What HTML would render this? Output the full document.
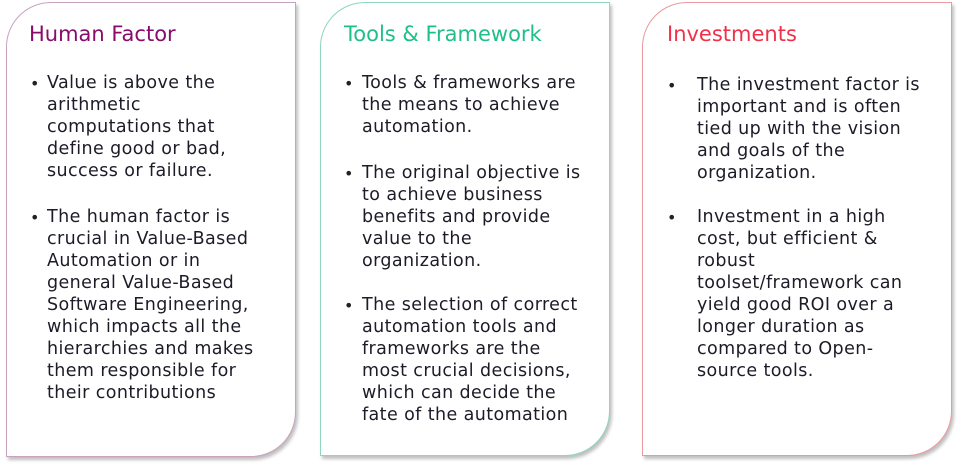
<!DOCTYPE html>
<html><head><meta charset="utf-8"><style>
body{margin:0;width:960px;height:466px;background:#fff;position:relative;overflow:hidden;font-family:"DejaVu Sans","Liberation Sans",sans-serif;}
.box{position:absolute;top:2px;height:454px;background:#fff;border:1.5px solid;border-radius:45px 0 45px 0;box-shadow:2px 3px 3px rgba(0,0,0,0.25);box-sizing:border-box;}
.t{position:absolute;top:21px;font-size:21px;line-height:26px;white-space:nowrap;}
.b{position:absolute;font-size:17.5px;letter-spacing:0.4px;line-height:22px;color:#1c1c28;white-space:nowrap;}
.d{position:absolute;font-size:16px;line-height:22px;color:#222;}
</style></head><body>
<div class="box" style="left:6px;width:290px;height:455px;border-color:#c9a2c2"></div>
<div class="box" style="left:320px;width:290px;border-color:#8fd6bd"></div>
<div class="box" style="left:642px;width:310px;border-color:#e99a9f"></div>

<div class="t" style="left:29px;color:#8a0c6a">Human Factor</div>
<div class="d" style="left:30px;top:73px">•</div>
<div class="b" style="left:47px;top:72px">Value is above the<br>arithmetic<br>computations that<br>define good or bad,<br>success or failure.</div>
<div class="d" style="left:30px;top:207px">•</div>
<div class="b" style="left:47px;top:206px">The human factor is<br>crucial in Value-Based<br>Automation or in<br>general Value-Based<br>Software Engineering,<br>which impacts all the<br>hierarchies and makes<br>them responsible for<br>their contributions</div>

<div class="t" style="left:344px;color:#1fbf8a">Tools &amp; Framework</div>
<div class="d" style="left:344px;top:73px">•</div>
<div class="b" style="left:362px;top:72px">Tools &amp; frameworks are<br>the means to achieve<br>automation.</div>
<div class="d" style="left:344px;top:163px">•</div>
<div class="b" style="left:362px;top:162px">The original objective is<br>to achieve business<br>benefits and provide<br>value to the<br>organization.</div>
<div class="d" style="left:344px;top:295px">•</div>
<div class="b" style="left:362px;top:294px">The selection of correct<br>automation tools and<br>frameworks are the<br>most crucial decisions,<br>which can decide the<br>fate of the automation</div>

<div class="t" style="left:667px;color:#f0304a">Investments</div>
<div class="d" style="left:667px;top:75px">•</div>
<div class="b" style="left:697px;top:74px">The investment factor is<br>important and is often<br>tied up with the vision<br>and goals of the<br>organization.</div>
<div class="d" style="left:667px;top:207px">•</div>
<div class="b" style="left:697px;top:206px">Investment in a high<br>cost, but efficient &amp;<br>robust<br>toolset/framework can<br>yield good ROI over a<br>longer duration as<br>compared to Open-<br>source tools.</div>
</body></html>
